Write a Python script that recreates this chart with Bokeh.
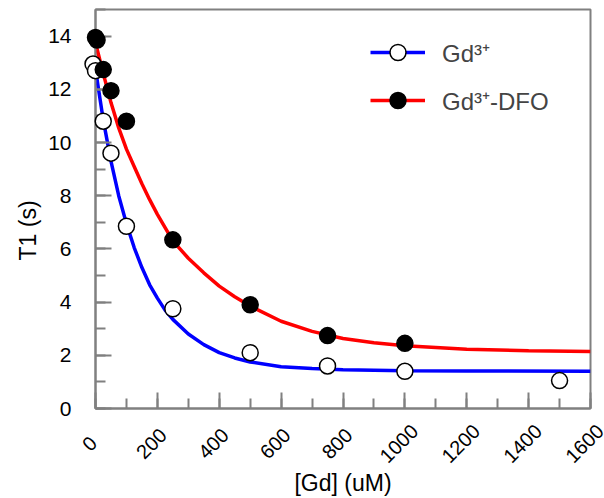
import math
from bokeh.plotting import figure
from bokeh.models import SingleIntervalTicker, Legend, LegendItem, Title
from bokeh.core.properties import value
from bokeh.embed import file_html
from bokeh.resources import INLINE

# measured points
gd_x = [-8, 0, 25, 50, 100, 250, 500, 750, 1000, 1500]
gd_y = [12.95, 12.7, 10.8, 9.6, 6.85, 3.75, 2.1, 1.6, 1.4, 1.05]
dfo_x = [0, 5, 25, 50, 100, 250, 500, 750, 1000]
dfo_y = [13.95, 13.85, 12.74, 11.95, 10.8, 6.34, 3.9, 2.74, 2.45]

# fitted curves
fit_gd_x = [0, 25, 50, 75, 100, 125, 150, 175, 200, 225, 250, 300, 350, 400, 450, 500, 600, 700, 800, 1000, 1200, 1600]
fit_gd_y = [12.75, 10.85, 9.3, 8.0, 6.95, 6.05, 5.3, 4.65, 4.15, 3.7, 3.35, 2.8, 2.4, 2.1, 1.9, 1.75, 1.57, 1.5, 1.46, 1.42, 1.41, 1.40]
fit_dfo_x = [0, 25, 50, 75, 100, 125, 150, 175, 200, 225, 250, 300, 350, 400, 450, 500, 600, 700, 800, 900, 1000, 1200, 1400, 1600]
fit_dfo_y = [13.75, 12.6, 11.5, 10.55, 9.75, 9.1, 8.45, 7.85, 7.3, 6.8, 6.3, 5.65, 5.1, 4.6, 4.2, 3.85, 3.28, 2.9, 2.63, 2.47, 2.36, 2.23, 2.17, 2.14]

x_tick_values = [0, 200, 400, 600, 800, 1000, 1200, 1400, 1600]
x_tick_labels = ["0", "200", "400", "600", "800", "1000", "1200", "1400", "1600"]
x_ticks_interval = 200
y_ticks_interval = 2

GRAY = "#808080"
FONT = "Liberation Sans"

p = figure(width=604, height=498, x_range=(0, 1600), y_range=(0, 15),
           output_backend="svg", toolbar_location=None,
           min_border_left=95, min_border_right=14, min_border_top=9, min_border_bottom=90)
p.background_fill_color = "white"
p.border_fill_color = "white"
p.outline_line_color = GRAY
p.outline_line_width = 2
p.xgrid.visible = False
p.ygrid.visible = False

p.xaxis.ticker = SingleIntervalTicker(interval=x_ticks_interval, num_minor_ticks=2)
p.yaxis.ticker = SingleIntervalTicker(interval=y_ticks_interval, num_minor_ticks=2)
for ax in (p.xaxis, p.yaxis):
    ax.axis_line_color = GRAY
    ax.axis_line_width = 2
    ax.major_tick_line_color = GRAY
    ax.minor_tick_line_color = GRAY
    ax.major_tick_line_width = 2
    ax.minor_tick_line_width = 2
    ax.major_tick_in = 16
    ax.major_tick_out = 0
    ax.minor_tick_in = 10
    ax.minor_tick_out = 0
    ax.major_label_text_font = FONT
    ax.major_label_text_font_size = "21px"
    ax.major_label_text_color = "black"
    ax.axis_label_text_font = FONT
    ax.axis_label_text_font_size = "23px"
    ax.axis_label_text_font_style = "normal"
    ax.axis_label_text_color = "black"

p.yaxis.major_label_standoff = 24
# x tick labels: hidden on the axis, drawn centred and rotated below it
p.xaxis.major_label_standoff = 22
p.xaxis.major_label_orientation = math.pi / 4
p.xaxis.major_label_text_alpha = 0
p.xaxis.axis_label = "[Gd] (uM)"
p.xaxis.axis_label_standoff = 61

p.text(x=x_tick_values, y=[0] * len(x_tick_values), text=x_tick_labels,
       angle=math.pi / 4, text_align="center", text_baseline="middle",
       x_offset=-6, y_offset=35, text_font=value(FONT), text_font_size="20px",
       text_color="black", level="overlay")

l1 = p.line(fit_gd_x, fit_gd_y, line_color="#0000FF", line_width=3.5)
l2 = p.line(fit_dfo_x, fit_dfo_y, line_color="#FF0000", line_width=3.5)
s1 = p.scatter(gd_x, gd_y, size=16, marker="circle", fill_color="white",
               line_color="black", line_width=1.5, level="overlay")
s2 = p.scatter(dfo_x, dfo_y, size=16, marker="circle", fill_color="black",
               line_color="black", line_width=1.5, level="overlay")

legend = Legend(items=[LegendItem(label="Gd³⁺", renderers=[l1, s1]),
                       LegendItem(label="Gd³⁺-DFO", renderers=[l2, s2])],
                location=(275, 288), padding=0, margin=0, spacing=8,
                glyph_width=55, glyph_height=40, label_height=40,
                label_standoff=17, label_text_font=FONT,
                label_text_font_size="24px", border_line_color=None,
                background_fill_alpha=0)
p.add_layout(legend)

ytitle = Title(text="T1 (s)", align="left", offset=148, standoff=10,
               text_font=FONT, text_font_size="23px", text_font_style="normal",
               text_color="black")
p.add_layout(ytitle, "left")

open("out.html", "w").write(file_html(p, INLINE))
